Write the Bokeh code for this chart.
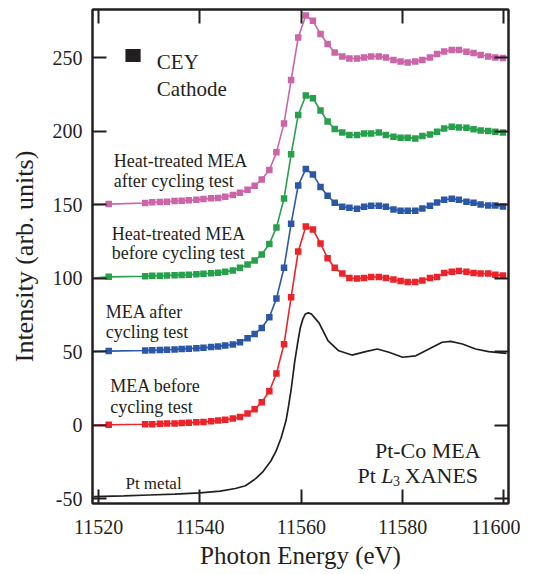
from bokeh.plotting import figure
from bokeh.models import ColumnDataSource, Label, BoxAnnotation, LinearAxis, FixedTicker, Range1d
from bokeh.embed import file_html
from bokeh.resources import INLINE

# ---------------- data ----------------
# first entry (11519) is only the start of the drawn line; markers start at index 1
energy = [11519.0, 11522.0, 11529.2, 11530.6, 11532.1, 11533.5, 11535.0, 11536.4, 11537.8, 11539.3,
          11540.7, 11542.2, 11543.6, 11545.0, 11546.5, 11547.9, 11549.4, 11550.8, 11552.2, 11553.7,
          11555.1, 11556.6, 11558.0, 11559.4, 11560.9, 11562.3, 11563.8, 11565.2, 11566.6, 11568.1,
          11569.5, 11571.0, 11572.4, 11573.8, 11575.3, 11576.7, 11578.2, 11579.6, 11581.0, 11582.5,
          11583.9, 11585.4, 11586.8, 11588.2, 11589.7, 11591.1, 11592.6, 11594.0, 11595.4, 11596.9,
          11598.3, 11599.8]

mea_before = [0.0, 0.2, 0.5, 0.6, 0.8, 1.0, 1.1, 1.3, 1.5, 1.8,
              2.1, 2.5, 3.0, 3.6, 4.4, 5.5, 7.8, 10.8, 15.5, 23.0,
              35.0, 55.0, 87.0, 118.0, 135.0, 133.0, 123.5, 113.5, 107.0, 103.0,
              100.0, 99.6, 100.0, 100.7, 100.7, 100.0, 99.0, 98.0, 97.3, 97.3,
              98.3, 100.0, 100.7, 103.5, 104.2, 104.8, 104.2, 103.5, 103.0, 103.0,
              102.3, 101.8]

mea_after = [50.0, 50.3, 50.7, 50.8, 51.0, 51.2, 51.4, 51.8, 51.9, 52.3,
             52.5, 53.0, 53.5, 54.1, 54.8, 56.3, 59.0, 62.0, 66.0, 73.3,
             86.0, 107.0, 137.0, 163.0, 174.2, 170.5, 162.0, 156.0, 151.2, 148.5,
             147.8, 147.1, 148.5, 149.2, 149.2, 148.5, 146.7, 145.8, 145.8, 145.8,
             147.3, 149.2, 151.4, 153.3, 154.0, 153.3, 151.9, 151.2, 150.1, 149.4,
             149.4, 148.7]

ht_before = [100.0, 100.8, 101.2, 101.5, 101.6, 101.7, 101.9, 102.1, 102.2, 102.6,
             102.9, 103.3, 103.6, 104.2, 105.2, 107.0, 109.2, 111.9, 116.0, 123.2,
             134.4, 154.1, 184.2, 211.0, 224.2, 222.4, 214.0, 206.5, 201.4, 199.0,
             197.3, 197.3, 198.3, 198.3, 199.0, 197.3, 196.2, 195.5, 195.5, 195.0,
             196.6, 197.7, 199.6, 201.8, 203.0, 202.5, 202.3, 201.2, 200.3, 200.0,
             199.6, 199.0]

ht_after = [150.0, 150.3, 151.0, 151.5, 151.7, 151.9, 152.4, 152.6, 152.9, 153.2,
            153.7, 154.2, 154.5, 155.3, 156.5, 158.0, 160.0, 162.8, 167.0, 173.5,
            185.5, 205.2, 234.7, 263.7, 278.6, 275.0, 266.0, 259.2, 253.5, 250.8,
            249.4, 249.4, 250.1, 250.8, 250.8, 250.1, 248.3, 247.4, 246.7, 247.4,
            248.3, 250.1, 252.4, 254.2, 255.1, 255.1, 254.0, 253.1, 251.7, 250.8,
            250.1, 249.7]

pt_energy = [11519.0, 11525.0, 11530.0, 11535.0, 11540.0, 11544.0, 11547.0, 11549.0, 11551.0, 11552.5,
             11554.0, 11555.0, 11556.0, 11557.0, 11557.5, 11558.0, 11558.7, 11559.3, 11559.8, 11560.3,
             11560.8, 11561.4, 11562.0, 11563.5, 11565.3, 11567.4, 11570.0, 11572.7, 11575.0, 11577.3,
             11580.0, 11582.6, 11585.2, 11587.8, 11589.5, 11591.8, 11594.4, 11597.0, 11599.0, 11600.5]
pt_metal = [-48.7, -48.2, -47.6, -47.0, -46.2, -45.0, -43.2, -41.3, -36.5, -31.5,
            -24.5, -18.0, -9.0, 3.0, 13.0, 24.0, 43.0, 56.0, 66.0, 72.0,
            75.5, 76.3, 75.5, 69.5, 57.3, 50.5, 47.6, 49.9, 51.7, 49.5,
            46.1, 47.1, 51.7, 56.3, 56.9, 55.1, 51.7, 49.9, 49.2, 48.8]

x_ticks = [11520, 11540, 11560, 11580, 11600]
y_ticks = [-50, 0, 50, 100, 150, 200, 250]

series_names = ["MEA before cycling test", "MEA after cycling test",
                "Heat-treated MEA before cycling test", "Heat-treated MEA after cycling test"]
series_values = [mea_before, mea_after, ht_before, ht_after]
series_colors = ["#ec2329", "#2b57a7", "#27a04b", "#cb65a8"]

INK = "#231f20"
FONT = "Liberation Serif"

# ---------------- figure ----------------
p = figure(frame_width=416, frame_height=494,
           min_border_left=92, min_border_right=12, min_border_top=9, min_border_bottom=66,
           x_range=Range1d(11518.8, 11600.9), y_range=Range1d(-53.4, 282.7),
           output_backend="svg", toolbar_location=None)
p.grid.visible = False
p.outline_line_color = INK
p.outline_line_width = 2


def style_axis(ax, ticks, show_labels, standoff):
    ax.ticker = FixedTicker(ticks=ticks)
    ax.axis_line_color = INK
    ax.axis_line_width = 2
    ax.major_tick_line_color = INK
    ax.major_tick_line_width = 2
    ax.major_tick_in = 14
    ax.major_tick_out = 0
    ax.minor_tick_line_color = None
    ax.major_label_text_font = FONT
    ax.major_label_text_color = INK
    if show_labels:
        ax.major_label_text_font_size = "20px"
        ax.major_label_standoff = standoff
        ax.major_label_overrides = {t: str(t) for t in ticks}
    else:
        ax.major_label_text_font_size = "1px"
        ax.major_label_standoff = 0
        ax.major_label_overrides = {t: "" for t in ticks}


style_axis(p.xaxis[0], x_ticks, True, 16)
style_axis(p.yaxis[0], y_ticks, True, 10)

for ax, size, standoff in ((p.xaxis[0], "25px", 5), (p.yaxis[0], "26px", 11)):
    ax.axis_label_text_font = FONT
    ax.axis_label_text_font_size = size
    ax.axis_label_text_font_style = "normal"
    ax.axis_label_text_color = INK
    ax.axis_label_standoff = standoff
p.xaxis[0].axis_label = "Photon Energy (eV)"
p.yaxis[0].axis_label = "Intensity (arb. units)"

top_axis = LinearAxis()
style_axis(top_axis, x_ticks, False, 0)
p.add_layout(top_axis, "above")
right_axis = LinearAxis()
style_axis(right_axis, y_ticks, False, 0)
p.add_layout(right_axis, "right")

# ---------------- data marks ----------------
p.line(pt_energy, pt_metal, line_color=INK, line_width=1.7)
for name, vals, col in zip(series_names, series_values, series_colors):
    src = ColumnDataSource(dict(x=energy, y=vals))
    p.line("x", "y", source=src, line_color=col, line_width=1.6)
    msrc = ColumnDataSource(dict(x=energy[1:], y=vals[1:]))
    p.scatter("x", "y", source=msrc, marker="square", size=6.5,
              fill_color=col, line_color=col, line_width=0)


# ---------------- annotations ----------------
def lab(x, y, text, size="18px", align="left", style="normal"):
    p.add_layout(Label(x=x, y=y, text=text, text_font=FONT, text_font_size=size,
                       text_color=INK, text_align=align, text_font_style=style,
                       text_baseline="alphabetic"))


lab(11523.0, 179.8, "Heat-treated MEA")
lab(11523.0, 166.2, "after cycling test")
lab(11522.6, 129.9, "Heat-treated MEA")
lab(11522.6, 117.0, "before cycling test")
lab(11521.4, 76.7, "MEA after")
lab(11521.4, 63.0, "cycling test")
lab(11522.3, 26.7, "MEA before")
lab(11522.3, 12.0, "cycling test")
lab(11525.3, -39.5, "Pt metal", size="17px")

p.add_layout(BoxAnnotation(left=11525.3, right=11528.3, bottom=246.9, top=255.8,
                           fill_color=INK, fill_alpha=1.0, line_color=None))
lab(11531.5, 246.7, "CEY", size="21px")
lab(11531.5, 228.6, "Cathode", size="21px")

lab(11595.4, -17.5, "Pt-Co MEA", size="22px", align="right")
lab(11571.1, -34.5, "Pt", size="22px")
lab(11575.8, -34.5, "L", size="22px", style="italic")
lab(11578.1, -38.3, "3", size="14px")
lab(11594.9, -34.5, "XANES", size="22px", align="right")

open("out.html", "w").write(file_html(p, INLINE))
